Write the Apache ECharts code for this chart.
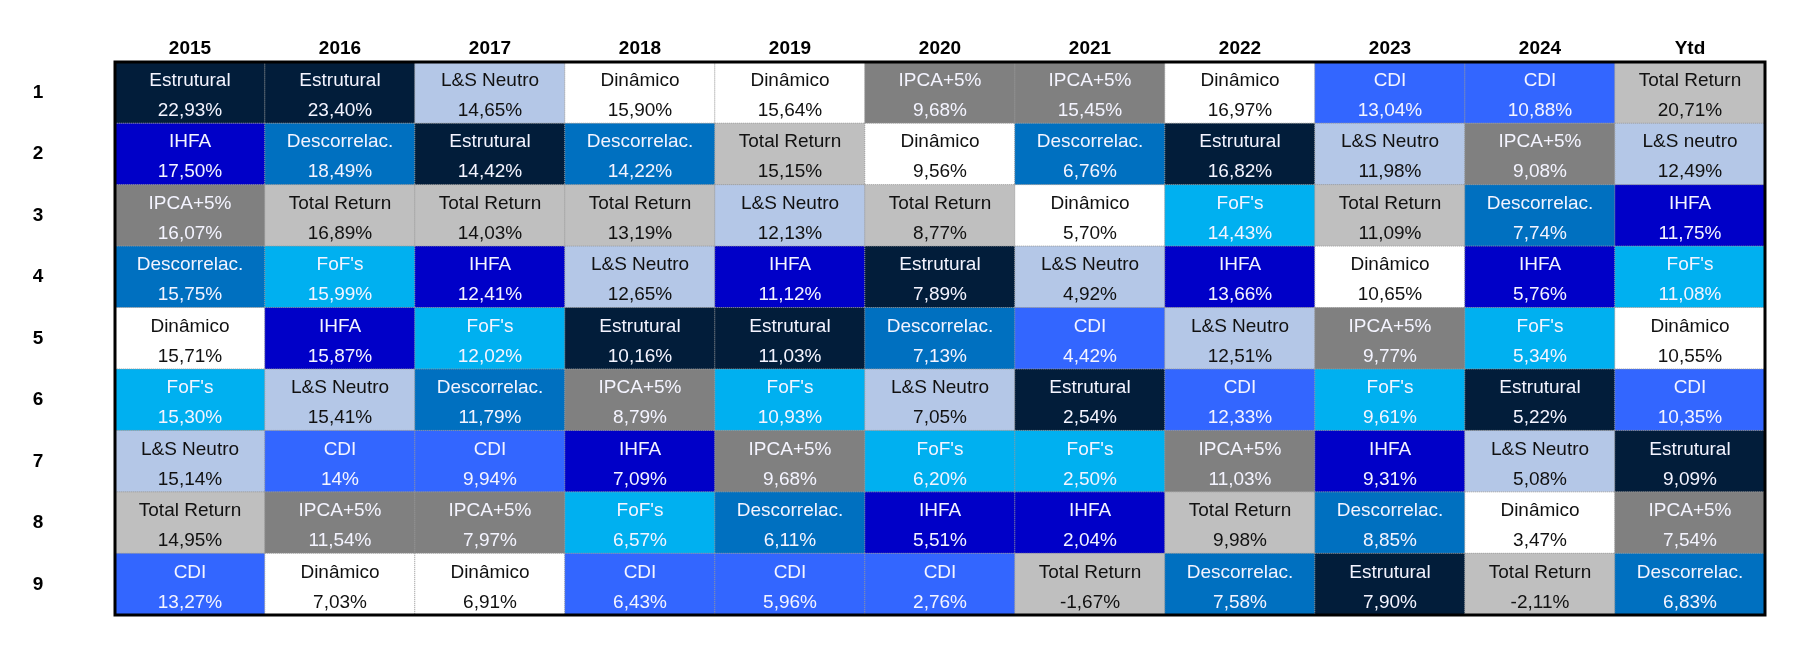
<!DOCTYPE html>
<html>
<head>
<meta charset="utf-8">
<script src="https://cdn.jsdelivr.net/npm/echarts@6/dist/echarts.min.js"></script>
<style>
  html, body { margin: 0; padding: 0; background: #fff; }
  #chart { width: 1794px; height: 660px; }
</style>
</head>
<body>
<div id="chart"></div>
<script>
// colunas e ranking
const years = ['2015', '2016', '2017', '2018', '2019', '2020', '2021', '2022', '2023', '2024', 'Ytd'];
const ranks = ['1', '2', '3', '4', '5', '6', '7', '8', '9'];

// nomes por coluna (do 1º ao 9º)
const names2015 = ['Estrutural', 'IHFA', 'IPCA+5%', 'Descorrelac.', 'Dinâmico', "FoF's", 'L&S Neutro', 'Total Return', 'CDI'];
const names2016 = ['Estrutural', 'Descorrelac.', 'Total Return', "FoF's", 'IHFA', 'L&S Neutro', 'CDI', 'IPCA+5%', 'Dinâmico'];
const names2017 = ['L&S Neutro', 'Estrutural', 'Total Return', 'IHFA', "FoF's", 'Descorrelac.', 'CDI', 'IPCA+5%', 'Dinâmico'];
const names2018 = ['Dinâmico', 'Descorrelac.', 'Total Return', 'L&S Neutro', 'Estrutural', 'IPCA+5%', 'IHFA', "FoF's", 'CDI'];
const names2019 = ['Dinâmico', 'Total Return', 'L&S Neutro', 'IHFA', 'Estrutural', "FoF's", 'IPCA+5%', 'Descorrelac.', 'CDI'];
const names2020 = ['IPCA+5%', 'Dinâmico', 'Total Return', 'Estrutural', 'Descorrelac.', 'L&S Neutro', "FoF's", 'IHFA', 'CDI'];
const names2021 = ['IPCA+5%', 'Descorrelac.', 'Dinâmico', 'L&S Neutro', 'CDI', 'Estrutural', "FoF's", 'IHFA', 'Total Return'];
const names2022 = ['Dinâmico', 'Estrutural', "FoF's", 'IHFA', 'L&S Neutro', 'CDI', 'IPCA+5%', 'Total Return', 'Descorrelac.'];
const names2023 = ['CDI', 'L&S Neutro', 'Total Return', 'Dinâmico', 'IPCA+5%', "FoF's", 'IHFA', 'Descorrelac.', 'Estrutural'];
const names2024 = ['CDI', 'IPCA+5%', 'Descorrelac.', 'IHFA', "FoF's", 'Estrutural', 'L&S Neutro', 'Dinâmico', 'Total Return'];
const namesYtd = ['Total Return', 'L&S neutro', 'IHFA', "FoF's", 'Dinâmico', 'CDI', 'Estrutural', 'IPCA+5%', 'Descorrelac.'];

// retornos (%) por coluna
const ret2015 = [22.93, 17.50, 16.07, 15.75, 15.71, 15.30, 15.14, 14.95, 13.27];
const ret2016 = [23.40, 18.49, 16.89, 15.99, 15.87, 15.41, 14, 11.54, 7.03];
const ret2017 = [14.65, 14.42, 14.03, 12.41, 12.02, 11.79, 9.94, 7.97, 6.91];
const ret2018 = [15.90, 14.22, 13.19, 12.65, 10.16, 8.79, 7.09, 6.57, 6.43];
const ret2019 = [15.64, 15.15, 12.13, 11.12, 11.03, 10.93, 9.68, 6.11, 5.96];
const ret2020 = [9.68, 9.56, 8.77, 7.89, 7.13, 7.05, 6.20, 5.51, 2.76];
const ret2021 = [15.45, 6.76, 5.70, 4.92, 4.42, 2.54, 2.50, 2.04, -1.67];
const ret2022 = [16.97, 16.82, 14.43, 13.66, 12.51, 12.33, 11.03, 9.98, 7.58];
const ret2023 = [13.04, 11.98, 11.09, 10.65, 9.77, 9.61, 9.31, 8.85, 7.90];
const ret2024 = [10.88, 9.08, 7.74, 5.76, 5.34, 5.22, 5.08, 3.47, -2.11];
const retYtd = [20.71, 12.49, 11.75, 11.08, 10.55, 10.35, 9.09, 7.54, 6.83];

const namesByYear = [names2015, names2016, names2017, names2018, names2019, names2020, names2021, names2022, names2023, names2024, namesYtd];
const retByYear = [ret2015, ret2016, ret2017, ret2018, ret2019, ret2020, ret2021, ret2022, ret2023, ret2024, retYtd];

// cor de fundo e do texto de cada estratégia
const palette = {
  'estrutural': ['#021d3a', '#f4f4ff'],
  'ihfa': ['#0000c8', '#f4f4ff'],
  'descorrelac.': ['#0070c0', '#f4f4ff'],
  'cdi': ['#3366ff', '#f4f4ff'],
  "fof's": ['#00b0f0', '#f4f4ff'],
  'ipca+5%': ['#808080', '#f4f4ff'],
  'total return': ['#bfbfbf', '#111111'],
  'l&s neutro': ['#b4c7e7', '#111111'],
  'dinâmico': ['#ffffff', '#111111']
};

const fmt = v => (Number.isInteger(v) ? String(v) : v.toFixed(2).replace('.', ',')) + '%';

const cells = [];
namesByYear.forEach((col, x) => {
  col.forEach((name, y) => {
    const c = palette[name.toLowerCase()];
    cells.push({
      value: [x, y, retByYear[x][y]],
      name: name,
      itemStyle: { color: c[0] },
      label: { color: c[1] }
    });
  });
});

const font = '"Liberation Sans", Arial, sans-serif';
const chart = echarts.init(document.getElementById('chart'));
chart.setOption({
  animation: false,
  backgroundColor: '#ffffff',
  grid: {
    left: 115, top: 62, width: 1650, height: 553,
    show: true, z: 5, backgroundColor: 'transparent',
    borderColor: '#000', borderWidth: 3
  },
  xAxis: {
    type: 'category', position: 'top', data: years,
    axisLine: { show: false }, axisTick: { show: false }, splitLine: { show: false },
    axisLabel: { color: '#000', fontFamily: font, fontWeight: 'bold', fontSize: 19, margin: 4 }
  },
  yAxis: {
    type: 'category', inverse: true, data: ranks,
    axisLine: { show: false }, axisTick: { show: false }, splitLine: { show: false },
    axisLabel: { color: '#000', fontFamily: font, fontWeight: 'bold', fontSize: 19, align: 'center', margin: 77 }
  },
  series: [{
    type: 'heatmap',
    data: cells,
    itemStyle: { borderColor: '#9a9a9a', borderWidth: 1, borderType: 'dotted' },
    emphasis: { disabled: true },
    label: {
      show: true,
      fontFamily: font,
      fontSize: 19,
      lineHeight: 30,
      offset: [0, 3],
      formatter: p => p.name + '\n' + fmt(p.value[2])
    }
  }]
});
</script>
</body>
</html>
